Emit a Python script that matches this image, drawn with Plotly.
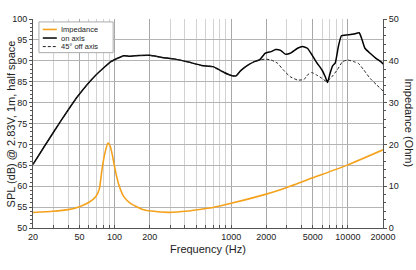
import math
import plotly.graph_objects as go

# ---- data ----
on_f = [20, 25, 35, 48, 67, 93, 110, 120, 135, 150, 200, 255, 330, 430, 556, 700, 770, 870,
        1000, 1100, 1200, 1400, 1580, 1750, 1950, 2200, 2400, 2650, 2900, 3200, 3700, 4100,
        4500, 4900, 5400, 6000, 6400, 6700, 7000, 7400, 7800, 8300, 8800, 9900, 11200, 12500,
        13100, 14000, 15500, 17400, 19500, 20000]
on_db = [65.2, 69.5, 75.8, 81.4, 86.2, 89.8, 90.8, 91.2, 91.1, 91.2, 91.3, 90.8, 90.4, 89.7,
         88.9, 88.6, 88.0, 87.2, 86.5, 86.4, 87.6, 89.0, 89.8, 90.2, 91.8, 92.2, 92.7, 92.5,
         91.6, 91.8, 93.0, 93.4, 93.0, 91.5, 89.6, 87.8, 86.2, 84.8, 86.8, 88.8, 89.5, 93.5,
         96.0, 96.2, 96.4, 96.7, 95.4, 93.0, 91.8, 90.6, 89.6, 89.2]

off_f = [20, 25, 35, 48, 67, 93, 110, 120, 135, 150, 200, 255, 330, 430, 556, 700, 770, 870,
         1000, 1100, 1200, 1400, 1580, 1750, 1950, 2200, 2500, 2800, 3200, 3700, 4200, 4500,
         4900, 5400, 6000, 6600, 7300, 8100, 9000, 9900, 11200, 12300, 13700, 15500, 17700, 20000]
off_db = [65.2, 69.5, 75.8, 81.4, 86.2, 89.8, 90.8, 91.2, 91.1, 91.2, 91.3, 90.8, 90.4, 89.7,
          88.9, 88.6, 88.0, 87.2, 86.5, 86.4, 87.6, 89.0, 89.8, 90.2, 90.4, 90.2, 89.4, 87.8,
          86.2, 85.4, 85.5, 86.6, 87.2, 86.6, 85.8, 85.0, 86.2, 87.8, 89.8, 90.2, 89.8, 89.4,
          87.8, 85.8, 84.2, 82.8]

imp_f = [20, 29.5, 40, 50, 60, 69, 74, 78, 82, 88, 92, 95, 102, 109, 120, 137, 172, 208, 290,
         427, 556, 700, 1000, 2000, 3000, 5000, 10000, 20000]
imp_ohm = [3.7, 4.0, 4.4, 5.1, 6.1, 7.5, 9.3, 13.9, 17.5, 20.3, 19.5, 17.9, 13.5, 10.3, 7.5,
           5.9, 4.5, 4.05, 3.75, 4.05, 4.5, 4.9, 5.9, 8.1, 9.7, 12.0, 15.1, 18.7]

series_names = ["Impedance", "on axis", "45° off axis"]

x_tickvals = [20, 50, 100, 200, 1000, 2000, 5000, 10000, 20000]
x_ticktext = ["20", "50", "100", "200", "1000", "2000", "5000", "10000", "20000"]
x_minor = [m * 10 ** e for e in range(1, 5) for m in range(1, 10)
           if 20 <= m * 10 ** e <= 20000 and m * 10 ** e not in x_tickvals]

ORANGE = "#f4a11c"
FONT = "Liberation Sans, Arial, sans-serif"
OFF_DASH = "3px,2px"

fig = go.Figure()
fig.add_trace(go.Scatter(x=imp_f, y=imp_ohm, name=series_names[0], yaxis="y2", mode="lines",
                         line=dict(color=ORANGE, width=1.6, shape="spline", smoothing=0.5)))
fig.add_trace(go.Scatter(x=on_f, y=on_db, name=series_names[1], mode="lines",
                         line=dict(color="black", width=1.5, shape="spline", smoothing=0.4)))
fig.add_trace(go.Scatter(x=off_f, y=off_db, name=series_names[2], mode="lines",
                         line=dict(color="#222", width=1, dash=OFF_DASH, shape="spline", smoothing=0.4)))

# custom compact legend (box, sample lines, labels)
shapes = [dict(type="rect", xref="paper", yref="paper", x0=0.017, x1=0.229, y0=0.839, y1=0.986,
               fillcolor="white", line=dict(color="#aaa", width=1), layer="above")]
annotations = []
leg_rows = [0.950, 0.909, 0.868]
leg_styles = [dict(color=ORANGE, width=1.6), dict(color="black", width=1.5),
              dict(color="#222", width=1, dash=OFF_DASH)]
for name, yy, st in zip(series_names, leg_rows, leg_styles):
    shapes.append(dict(type="line", xref="paper", yref="paper", x0=0.028, x1=0.068, y0=yy, y1=yy,
                       line=st, layer="above"))
    annotations.append(dict(text=name, xref="paper", yref="paper", x=0.077, y=yy,
                            xanchor="left", yanchor="middle", showarrow=False,
                            height=7, borderpad=0, valign="middle",
                            font=dict(size=7.5, color="#222")))

annotations += [
    dict(text="Frequency (Hz)", xref="paper", yref="paper", x=0.5, y=-0.1,
         xanchor="center", yanchor="middle", showarrow=False, font=dict(size=11)),
    dict(text="SPL (dB) @ 2.83V, 1m, half space", xref="paper", yref="paper",
         x=-0.063, y=0.5, xanchor="center", yanchor="middle", textangle=-90,
         showarrow=False, font=dict(size=11)),
    dict(text="Impedance (Ohm)", xref="paper", yref="paper",
         x=1.077, y=0.5, xanchor="center", yanchor="middle", textangle=90,
         showarrow=False, font=dict(size=11)),
]

fig.update_layout(
    width=416, height=270,
    margin=dict(l=30, r=33, t=19, b=42),
    paper_bgcolor="white", plot_bgcolor="white",
    font=dict(family=FONT, size=9, color="#222"),
    showlegend=False,
    xaxis=dict(type="log", range=[math.log10(20), math.log10(20000)],
               tickvals=x_tickvals, ticktext=x_ticktext,
               showgrid=True, gridcolor="#a8a8a8", gridwidth=1,
               minor=dict(tickvals=x_minor, showgrid=True, gridcolor="#d2d2d2",
                          ticks="inside", ticklen=3, tickcolor="#555"),
               showline=True, linecolor="#555", linewidth=1,
               ticks="inside", ticklen=3, tickcolor="#555",
               tickfont=dict(size=9), zeroline=False),
    yaxis=dict(range=[50, 100], dtick=5, tick0=50,
               showgrid=True, gridcolor="#b4b4b4", gridwidth=1,
               minor=dict(dtick=1, ticks="outside", ticklen=2, tickcolor="#555", showgrid=False),
               showline=True, linecolor="#555", linewidth=1,
               ticks="outside", ticklen=3, tickcolor="#555",
               tickfont=dict(size=9), zeroline=False),
    yaxis2=dict(range=[0, 50], dtick=10, tick0=0, overlaying="y", side="right",
                showgrid=False,
                minor=dict(dtick=2, ticks="outside", ticklen=2, tickcolor="#555", showgrid=False),
                showline=True, linecolor="#555", linewidth=1,
                ticks="outside", ticklen=3, tickcolor="#555",
                tickfont=dict(size=9), zeroline=False),
    shapes=shapes,
    annotations=annotations,
)

fig.write_html("out.html")
